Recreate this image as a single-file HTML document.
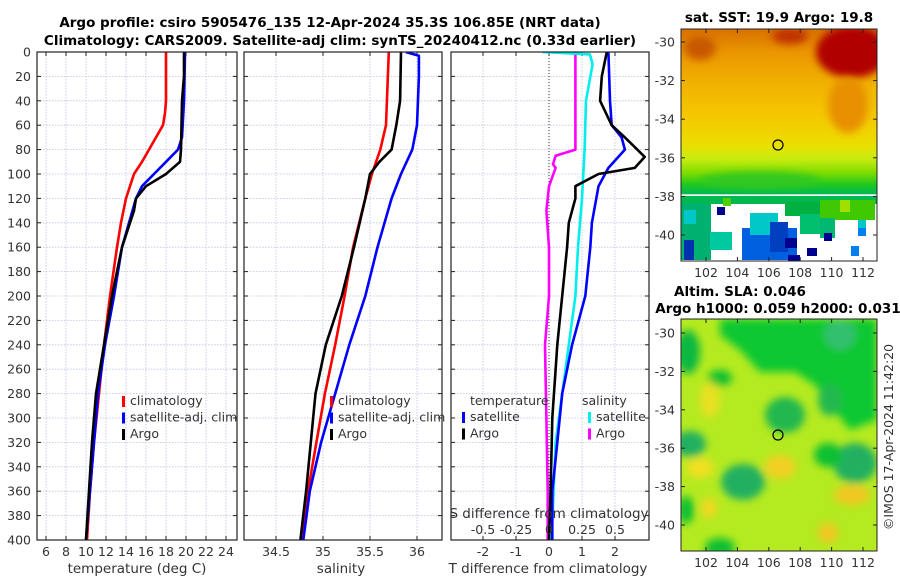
<!DOCTYPE html>
<html><head><meta charset="utf-8"><style>
body{margin:0;background:#fff}
svg{display:block;font-family:"DejaVu Sans","Liberation Sans",sans-serif}
.tk{font-size:12.5px;fill:#333}
.ttl{font-size:13.5px;font-weight:bold;fill:#000}
</style></head><body>
<svg id="chart" width="900" height="580" viewBox="0 0 900 580">
<defs>
<filter id="blur" x="-50%" y="-50%" width="200%" height="200%"><feGaussianBlur stdDeviation="4"/></filter>
<filter id="blur2" x="-50%" y="-50%" width="200%" height="200%"><feGaussianBlur stdDeviation="4"/></filter>
<clipPath id="c1"><rect x="37" y="52" width="200" height="488"/></clipPath>
<clipPath id="c2"><rect x="244" y="52" width="198" height="488"/></clipPath>
<clipPath id="c3"><rect x="451" y="52" width="198" height="488"/></clipPath>
<clipPath id="m1"><rect x="681" y="29" width="196" height="232"/></clipPath>
<clipPath id="m2"><rect x="681" y="319" width="196" height="232"/></clipPath>
<linearGradient id="sstg" x1="0" y1="0" x2="0" y2="1">
<stop offset="0" stop-color="#d87000"/><stop offset="0.1" stop-color="#ea9600"/>
<stop offset="0.25" stop-color="#f2b400"/><stop offset="0.4" stop-color="#f4cc00"/>
<stop offset="0.5" stop-color="#eade00"/><stop offset="0.56" stop-color="#c8ec10"/>
<stop offset="0.62" stop-color="#80dc00"/><stop offset="0.67" stop-color="#20c820"/>
<stop offset="0.71" stop-color="#00b850"/>
<stop offset="0.715" stop-color="#ffffff"/><stop offset="1" stop-color="#ffffff"/>
</linearGradient>
</defs>
<text class="ttl" x="330" y="27" text-anchor="middle">Argo profile: csiro 5905476_135 12-Apr-2024 35.3S 106.85E (NRT data)</text>
<text class="ttl" x="340" y="45" text-anchor="middle">Climatology: CARS2009. Satellite-adj clim: synTS_20240412.nc (0.33d earlier)</text>
<g id="p1"></g>
<g id="p2"></g>
<g id="p3"></g>

<!-- SST map -->
<g>
<text class="ttl" x="779" y="22" text-anchor="middle">sat. SST: 19.9 Argo: 19.8</text>
<g clip-path="url(#m1)">
<rect x="681" y="29" width="196" height="232" fill="url(#sstg)"/>
<ellipse cx="852" cy="52" rx="36" ry="26" fill="#b00000" filter="url(#blur2)"/>
<ellipse cx="790" cy="36" rx="18" ry="8" fill="#c03000" filter="url(#blur2)"/>
<ellipse cx="700" cy="48" rx="16" ry="12" fill="#c85800" filter="url(#blur2)"/>
<ellipse cx="848" cy="105" rx="20" ry="28" fill="#e89000" filter="url(#blur2)"/>
<ellipse cx="760" cy="180" rx="60" ry="8" fill="#30c820" filter="url(#blur2)"/>
<rect x="681" y="196" width="196" height="8" fill="#00b850"/>
<rect x="681" y="204" width="30" height="56" fill="#00b070"/>
<rect x="684" y="210" width="12" height="14" fill="#00c8c8"/>
<rect x="710" y="232" width="22" height="18" fill="#00c8a0"/>
<rect x="684" y="240" width="10" height="20" fill="#0030b0"/>
<rect x="742" y="228" width="55" height="32" fill="#0060e0"/>
<rect x="750" y="213" width="28" height="22" fill="#00c8c8"/>
<rect x="770" y="222" width="18" height="30" fill="#0040c0"/>
<rect x="785" y="238" width="12" height="10" fill="#000090"/>
<rect x="785" y="202" width="35" height="14" fill="#00b040"/>
<rect x="800" y="214" width="22" height="20" fill="#00c070"/>
<rect x="820" y="200" width="55" height="20" fill="#40c800"/>
<rect x="820" y="218" width="15" height="20" fill="#00b870"/>
<rect x="824" y="233" width="8" height="8" fill="#000090"/>
<rect x="840" y="200" width="10" height="12" fill="#a0e000"/>
<rect x="858" y="220" width="8" height="8" fill="#00c8c8"/>
<rect x="858" y="228" width="8" height="8" fill="#0080f0"/>
<rect x="851" y="246" width="8" height="10" fill="#0080f0"/>
<rect x="807" y="248" width="10" height="8" fill="#000090"/>
<rect x="788" y="255" width="12" height="6" fill="#000090"/>
<rect x="723" y="198" width="8" height="8" fill="#50d000"/>
<rect x="717" y="207" width="8" height="8" fill="#000090"/>
</g>
<rect x="681" y="29" width="196" height="232" fill="none" stroke="#222" stroke-width="1"/>
<circle cx="778" cy="145" r="5" fill="none" stroke="#000" stroke-width="1.2"/>
<g id="m1ax"></g>
</g>

<!-- SLA map -->
<g>
<text class="ttl" x="740" y="296" text-anchor="middle">Altim. SLA: 0.046</text>
<text class="ttl" x="778" y="313" text-anchor="middle">Argo h1000: 0.059 h2000: 0.031</text>
<g clip-path="url(#m2)">
<rect x="681" y="319" width="196" height="232" fill="#b4ea20"/>
<g filter="url(#blur)">
<path d="M720 319 L877 319 L877 420 L850 430 L830 405 L815 385 L795 372 L760 372 L740 350 L720 335 Z" fill="#10c830"/>
<ellipse cx="840" cy="335" rx="16" ry="15" fill="#30c070"/>
<ellipse cx="830" cy="400" rx="12" ry="16" fill="#20b850"/>
<ellipse cx="688" cy="352" rx="12" ry="22" fill="#10b840"/>
<ellipse cx="720" cy="378" rx="12" ry="8" fill="#10c030"/>
<ellipse cx="785" cy="415" rx="20" ry="18" fill="#20b850"/>
<ellipse cx="690" cy="444" rx="16" ry="13" fill="#20b060"/>
<ellipse cx="743" cy="482" rx="22" ry="18" fill="#20b060"/>
<ellipse cx="855" cy="463" rx="22" ry="20" fill="#20b060"/>
<ellipse cx="828" cy="455" rx="14" ry="12" fill="#10c030"/>
<ellipse cx="720" cy="548" rx="15" ry="10" fill="#10c030"/>
<ellipse cx="686" cy="510" rx="8" ry="14" fill="#10c030"/>
<ellipse cx="700" cy="468" rx="14" ry="10" fill="#f0e020"/>
<ellipse cx="780" cy="467" rx="16" ry="12" fill="#f0d020"/>
<ellipse cx="852" cy="495" rx="18" ry="10" fill="#f0c820"/>
<ellipse cx="828" cy="533" rx="10" ry="10" fill="#f0c820"/>
<ellipse cx="710" cy="400" rx="10" ry="18" fill="#e8e020"/>
<ellipse cx="709" cy="508" rx="8" ry="10" fill="#f0d820"/>
</g>
</g>
<rect x="681" y="319" width="196" height="232" fill="none" stroke="#222" stroke-width="1"/>
<circle cx="778" cy="435" r="5" fill="none" stroke="#000" stroke-width="1.2"/>
<g id="m2ax"></g>
<text class="tk" transform="translate(893,437) rotate(-90)" text-anchor="middle">©IMOS 17-Apr-2024 11:42:20</text>
</g>
</svg>
<script>
// ---------- data ----------
const depthTicks=[0,20,40,60,80,100,120,140,160,180,200,220,240,260,280,300,320,340,360,380,400];
const tTicks=[6,8,10,12,14,16,18,20,22,24];
const sTicks=[34.5,35,35.5,36];
const dTTicks=[-2,-1,0,1,2];
const dSTicks=[-0.5,-0.25,0,0.25,0.5];
const dSTickLabels=["-0.5","-0.25","0","0.25","0.5"];

const tClimDepth=[0,20,40,50,60,70,80,90,100,120,140,160,200,240,280,320,360,400];
const tClim=[18.0,18.0,18.0,17.9,17.7,17.0,16.3,15.6,14.8,14.0,13.5,13.1,12.4,11.8,11.3,10.8,10.4,10.1];
const tSatDepth=[0,40,70,80,90,100,110,120,140,160,200,240,280,320,360,400];
const tSat=[19.9,19.8,19.6,19.2,18.0,16.8,15.6,15.0,14.3,13.6,12.8,11.9,11.2,10.8,10.4,10.0];
const tArgoDepth=[0,20,30,40,80,90,100,110,120,130,160,200,240,280,320,360,400];
const tArgo=[19.8,19.8,19.7,19.6,19.5,19.4,18.0,16.0,15.0,14.8,13.6,12.6,11.8,11.0,10.6,10.3,10.0];

const sClimDepth=[0,60,80,100,120,160,200,240,280,320,360,400];
const sClim=[35.70,35.67,35.61,35.52,35.45,35.32,35.23,35.13,35.02,34.93,34.84,34.77];
const sSatDepth=[0,3,20,60,80,100,120,160,200,240,280,320,360,400];
const sSat=[35.88,36.02,36.02,36.0,35.95,35.83,35.73,35.58,35.45,35.28,35.13,34.98,34.86,34.79];
const sArgoDepth=[0,40,60,80,90,100,120,160,200,240,280,320,360,400];
const sArgo=[35.83,35.82,35.78,35.73,35.6,35.5,35.45,35.33,35.2,35.03,34.92,34.87,34.82,34.76];

const dTArgoDepth=[0,20,40,60,70,86,95,100,110,120,140,160,200,240,300,360,400];
const dTArgo=[1.75,1.6,1.55,1.9,2.3,2.9,2.6,1.5,0.8,0.8,0.6,0.55,0.4,0.25,0.1,0.05,0.0];
const dTSatDepth=[0,40,60,70,80,95,110,140,160,200,240,280,320,360,400];
const dTSat=[1.8,1.85,1.9,2.2,2.3,1.8,1.5,1.3,1.25,1.1,0.7,0.4,0.25,0.1,0.1];
const dSSatDepth=[0,2,10,40,80,120,160,200,240,280,320,400];
const dSSat=[-0.05,0.31,0.33,0.28,0.27,0.25,0.22,0.2,0.15,0.1,0.05,0.02];
const dSArgoDepth=[0,60,80,85,92,95,110,130,160,200,240,300,360,400];
const dSArgo=[0.2,0.2,0.2,0.05,0.03,0.05,0.0,-0.02,0.0,0.0,-0.03,-0.02,-0.01,-0.01];

const mapLonTicks=[102,104,106,108,110,112];
const mapLatTicks=[-30,-32,-34,-36,-38,-40];

// ---------- helpers ----------
const NS="http://www.w3.org/2000/svg";
function mk(tag,attrs,parent){const e=document.createElementNS(NS,tag);for(const k in attrs)e.setAttribute(k,attrs[k]);parent.appendChild(e);return e;}
const Y0=52,Y1=540;
const yS=d=>Y0+(d/400)*(Y1-Y0);
function lin(d0,d1,r0,r1){return v=>r0+(v-d0)/(d1-d0)*(r1-r0);}

function panel(g,x0,x1,xS,ticks,labels,showY,clip){
  mk('rect',{x:x0,y:Y0,width:x1-x0,height:Y1-Y0,fill:'#fff'},g);
  ticks.forEach(t=>{const gl=mk('line',{x1:xS(t),x2:xS(t),y1:Y0,y2:Y1,stroke:'#b8c4e0','stroke-width':0.8,'stroke-dasharray':'1.5,1.5'},g);
    
    });
  depthTicks.forEach(d=>{if(d===0||d===400)return;const gl=mk('line',{x1:x0,x2:x1,y1:yS(d),y2:yS(d),stroke:'#b8c4e0','stroke-width':0.8,'stroke-dasharray':'1.5,1.5'},g);
    
    
    mk('line',{x1:x0,x2:x0+4,y1:yS(d),y2:yS(d),stroke:'#222'},g);mk('line',{x1:x1-4,x2:x1,y1:yS(d),y2:yS(d),stroke:'#222'},g);});
  ticks.forEach((t,i)=>{mk('line',{x1:xS(t),x2:xS(t),y1:Y1,y2:Y1-4,stroke:'#222'},g);mk('line',{x1:xS(t),x2:xS(t),y1:Y0,y2:Y0+4,stroke:'#222'},g);
    const tx=mk('text',{x:xS(t),y:556,'text-anchor':'middle',class:'tk'},g);tx.textContent=labels[i];
    
    });
  if(showY){depthTicks.forEach(d=>{const tx=mk('text',{x:31,y:yS(d)+4.5,'text-anchor':'end',class:'tk'},g);tx.textContent=d;
    
    });}
  const cg=mk('g',{'clip-path':'url(#'+clip+')'},g);
  mk('rect',{x:x0,y:Y0,width:x1-x0,height:Y1-Y0,fill:'none',stroke:'#222','stroke-width':1.2},g);
  return cg;
}
function line(g,xs,ds,xS,color,name,w){
  const pts=xs.map((v,i)=>xS(v).toFixed(1)+','+yS(ds[i]).toFixed(1)).join(' ');
  const p=mk('polyline',{points:pts,fill:'none',stroke:color,'stroke-width':w||2.6,'stroke-linejoin':'round'},g);
  
  
}
function legend(g,x,y,items){
  items.forEach((it,i)=>{mk('rect',{x:x,y:y+i*16.5-9,width:3,height:11,fill:it[1]},g);
    const t=mk('text',{x:x+8,y:y+i*16.5,class:'tk',fill:'#111'},g);t.textContent=it[0];
    
    });
}
function label(g,x,y,txt,name){const t=mk('text',{x:x,y:y,'text-anchor':'middle',class:'tk'},g);t.textContent=txt;t.style.fontSize='13.5px';
  
  }

// ---------- panel 1 ----------
const p1=document.getElementById('p1');
const xT=lin(6,24,46,226);
const c1=panel(p1,37,237,xT,tTicks,tTicks.map(String),true,'c1');
line(c1,tClim,tClimDepth,xT,'#f00','temp-climatology-line');
line(c1,tSat,tSatDepth,xT,'#00f','temp-satellite-line');
line(c1,tArgo,tArgoDepth,xT,'#000','temp-argo-line');
legend(p1,122,405,[['climatology','#f00'],['satellite-adj. clim','#00f'],['Argo','#000']]);
label(p1,137,573,'temperature (deg C)','x-axis-title-temperature');

// ---------- panel 2 ----------
const p2=document.getElementById('p2');
const xSal=lin(35,36,323,417);
const c2=panel(p2,244,442,xSal,sTicks,sTicks.map(String),false,'c2');
line(c2,sClim,sClimDepth,xSal,'#f00','sal-climatology-line');
line(c2,sSat,sSatDepth,xSal,'#00f','sal-satellite-line');
line(c2,sArgo,sArgoDepth,xSal,'#000','sal-argo-line');
legend(p2,330,405,[['climatology','#f00'],['satellite-adj. clim','#00f'],['Argo','#000']]);
label(p2,341,573,'salinity','x-axis-title-salinity');

// ---------- panel 3 ----------
const p3=document.getElementById('p3');
const xD=lin(0,1,549,582);
const xDS=lin(0,0.25,549,582);
const c3=panel(p3,451,649,xD,dTTicks,dTTicks.map(String),false,'c3');
const zl=mk('line',{x1:xD(0),x2:xD(0),y1:Y0,y2:Y1,stroke:'#333','stroke-width':1,'stroke-dasharray':'1,2'},c3);


line(c3,dSArgo,dSArgoDepth,xDS,'#f0f','sdiff-argo-line');
line(c3,dSSat,dSSatDepth,xDS,'#0ee','sdiff-satellite-line');
line(c3,dTSat,dTSatDepth,xD,'#00f','tdiff-satellite-line');
line(c3,dTArgo,dTArgoDepth,xD,'#000','tdiff-argo-line');
[['temperature',470],['salinity',582]].forEach(a=>{const t=mk('text',{x:a[1],y:405,class:'tk',fill:'#111'},p3);t.textContent=a[0];
  
  });
legend(p3,462,421,[['satellite','#00f'],['Argo','#000']]);
legend(p3,588,421,[['satellite','#0ee'],['Argo','#f0f']]);
const sdt=mk('text',{x:549,y:518,'text-anchor':'middle',class:'tk'},p3);sdt.textContent='S difference from climatology';sdt.style.fontSize='13.5px';


dSTicks.forEach((v,i)=>{const t=mk('text',{x:xDS(v),y:534,'text-anchor':'middle',class:'tk'},p3);t.textContent=dSTickLabels[i];
  
  });
label(p3,548,573,'T difference from climatology','x-axis-title-tdiff');

// ---------- map axes ----------
function mapAxes(id,top,bottom,latY0,latY1){
  const g=document.getElementById(id);
  const xL=lin(102,112,706,863), yL=lin(-30,-40,latY0,latY1);
  mapLonTicks.forEach(v=>{mk('line',{x1:xL(v),x2:xL(v),y1:bottom,y2:bottom-4,stroke:'#222'},g);mk('line',{x1:xL(v),x2:xL(v),y1:top,y2:top+4,stroke:'#222'},g);
    const t=mk('text',{x:xL(v),y:bottom+16,'text-anchor':'middle',class:'tk'},g);t.textContent=v;
    
    });
  mapLatTicks.forEach(v=>{mk('line',{x1:681,x2:685,y1:yL(v),y2:yL(v),stroke:'#222'},g);mk('line',{x1:873,x2:877,y1:yL(v),y2:yL(v),stroke:'#222'},g);
    const t=mk('text',{x:675,y:yL(v)+4.5,'text-anchor':'end',class:'tk'},g);t.textContent=v;
    
    });
}
mapAxes('m1ax',29,261,42,235);
mapAxes('m2ax',319,551,333,525);
</script>
</body></html>
